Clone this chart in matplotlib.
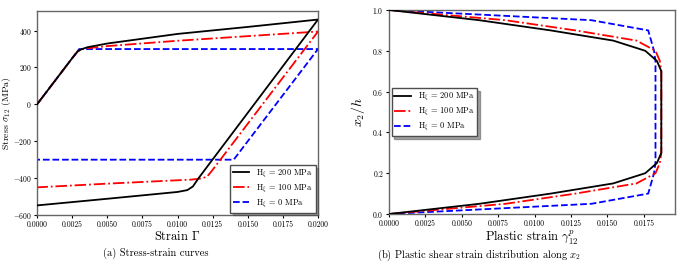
import matplotlib
matplotlib.use("Agg")
import matplotlib.pyplot as plt

plt.rcParams['font.family'] = 'serif'
plt.rcParams['font.serif'] = ['cmr10', 'DejaVu Serif']
plt.rcParams['mathtext.fontset'] = 'cm'
plt.rcParams['axes.formatter.use_mathtext'] = True
plt.rcParams['axes.unicode_minus'] = True

# ---------------- data: stress-strain ----------------
strain_200 = [0.0, 0.0025, 0.0029, 0.0032, 0.0036, 0.005, 0.010, 0.015, 0.020,
              0.0115, 0.0111, 0.0107, 0.0100, 0.005, 0.0]
stress_200 = [0, 250, 288, 300, 310, 330, 382, 420, 460,
              -400, -445, -465, -475, -512, -548]
strain_100 = [0.0, 0.0025, 0.0029, 0.0032, 0.0037, 0.005, 0.010, 0.015, 0.020,
              0.0124, 0.0121, 0.0117, 0.0110, 0.005, 0.0]
stress_100 = [0, 250, 288, 300, 305, 316, 345, 370, 395,
              -365, -392, -402, -408, -430, -450]
strain_0 = [0.0, 0.0030, 0.020, 0.014, 0.0]
stress_0 = [0, 300, 300, -300, -300]

# ---------------- data: plastic strain profile ----------------
x2h = [0.0, 0.05, 0.1, 0.15, 0.2, 0.25, 0.3, 0.35, 0.4, 0.45, 0.5,
       0.55, 0.6, 0.65, 0.7, 0.75, 0.8, 0.85, 0.9, 0.95, 1.0]
gp_200 = [0.0, 0.0062, 0.0111, 0.0154, 0.0176, 0.0184, 0.0187, 0.0187, 0.0187, 0.0187, 0.0187,
          0.0187, 0.0187, 0.0187, 0.0187, 0.0184, 0.0176, 0.0154, 0.0111, 0.0062, 0.0]
gp_100 = [0.0, 0.0080, 0.0128, 0.0170, 0.0183, 0.0186, 0.0187, 0.0187, 0.0187, 0.0187, 0.0187,
          0.0187, 0.0187, 0.0187, 0.0187, 0.0186, 0.0183, 0.0170, 0.0128, 0.0080, 0.0]
gp_0 = [0.0, 0.0139, 0.0178, 0.0180, 0.0182, 0.0183, 0.0183, 0.0183, 0.0183, 0.0183, 0.0183,
        0.0183, 0.0183, 0.0183, 0.0183, 0.0183, 0.0182, 0.0180, 0.0178, 0.0139, 0.0]

labels = [r'H$_\xi$ = 200 MPa', r'H$_\xi$ = 100 MPa', r'H$_\xi$ = 0 MPa']
xticks_a = [0.0, 0.0025, 0.005, 0.0075, 0.01, 0.0125, 0.015, 0.0175, 0.02]
xticks_b = [0.0, 0.0025, 0.005, 0.0075, 0.01, 0.0125, 0.015, 0.0175]

fig = plt.figure(figsize=(6.78, 2.63), dpi=100)
L1 = 37
ax1 = fig.add_axes([L1/678, 1-215/263, (318-L1)/678, (215-10.7)/263])
ax2 = fig.add_axes([389/678, 1-214/263, (675-389)/678, (214-10)/263])

lw = 1.3
ax1.plot(strain_200, stress_200, color='black', ls='-', lw=lw, label=labels[0], zorder=3)
ax1.plot(strain_100, stress_100, color='red', ls='-.', lw=lw, label=labels[1], zorder=2.5)
ax1.plot(strain_0, stress_0, color='blue', ls='--', lw=lw, label=labels[2], zorder=2)
ax1.set_xlim(0, 0.02)
ax1.set_ylim(-600, 508)
ax1.set_xticks(xticks_a)
ax1.set_xticklabels([f'{v:.4f}' for v in xticks_a])
ax1.set_yticks([-600, -400, -200, 0, 200, 400])
ax1.set_xlabel(r'Strain $\Gamma$', fontsize=9, labelpad=1)
ax1.set_ylabel(r'Stress $\sigma_{12}$ (MPa)', fontsize=7)
ax1.yaxis.set_label_coords((13.5 - L1) / (318 - L1), 0.5)
ax1.legend(loc='lower right', fontsize=6, shadow=True, fancybox=False,
           edgecolor='0.3', framealpha=1, borderaxespad=0.3, handlelength=2.0,
           labelspacing=0.35, borderpad=0.35)

ax2.plot(gp_200, x2h, color='black', ls='-', lw=lw, label=labels[0], zorder=3)
ax2.plot(gp_100, x2h, color='red', ls='-.', lw=lw, label=labels[1], zorder=2.5)
ax2.plot(gp_0, x2h, color='blue', ls='--', lw=lw, label=labels[2], zorder=2)
ax2.set_xlim(0, 0.01964)
ax2.set_ylim(0, 1.0)
ax2.set_xticks(xticks_b)
ax2.set_xticklabels([f'{v:.4f}' for v in xticks_b])
ax2.set_yticks([0.0, 0.2, 0.4, 0.6, 0.8, 1.0])
ax2.set_xlabel(r'Plastic strain $\gamma^p_{12}$', fontsize=9, labelpad=1)
ax2.set_ylabel(r'$x_2/h$', fontsize=10)
ax2.legend(loc='center left', fontsize=6, shadow=True, fancybox=False,
           edgecolor='0.3', framealpha=1, borderaxespad=0.3, handlelength=2.0,
           labelspacing=0.35, borderpad=0.35)

for ax in (ax1, ax2):
    ax.tick_params(labelsize=5.5, length=2.5, width=0.8, pad=1.2)
    for s in ax.spines.values():
        s.set_color('0.4')
        s.set_linewidth(1.0)

fig.text(103/678, 1-248/263, '(a) Stress-strain curves', fontsize=7.5, va='top', ha='left')
fig.text(377/678, 1-248/263, r'(b) Plastic shear strain distribution along $x_2$',
         fontsize=7.5, va='top', ha='left')

fig.savefig('out.png', dpi=100)
